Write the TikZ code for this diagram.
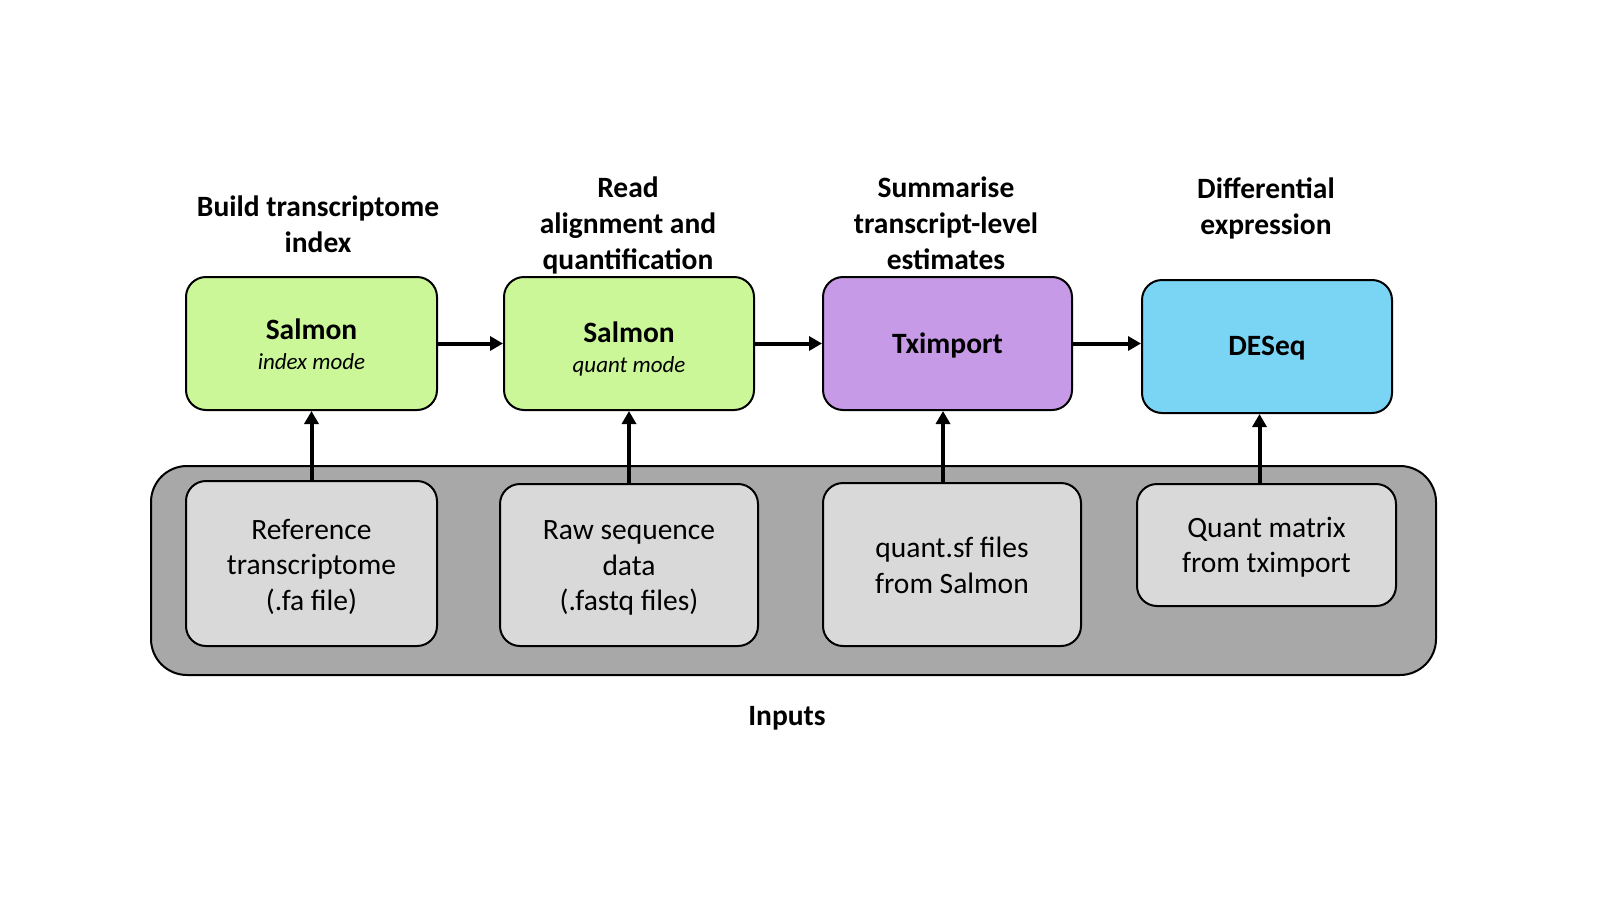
\documentclass[tikz,border=0pt]{standalone}
\usepackage{fontspec}
\setmainfont{Carlito}
\usetikzlibrary{arrows.meta}
\definecolor{cgreen}{RGB}{204,247,153}
\definecolor{cpurple}{RGB}{199,154,232}
\definecolor{cblue}{RGB}{122,213,245}
\definecolor{ccont}{RGB}{168,168,168}
\definecolor{cinner}{RGB}{217,217,217}
\tikzset{
  tool/.style={draw=black, line width=2pt, rounded corners=20pt, inner sep=0pt},
  tooltxt/.style={align=center, inner sep=0pt, font=\fontsize{29.5}{36}\selectfont\bfseries},
  inbox/.style={draw=black, line width=2pt, rounded corners=20pt, fill=cinner, inner sep=0pt},
  intxt/.style={align=center, inner sep=0pt, font=\fontsize{29.5}{35.5}\selectfont},
  lbl/.style={align=center, inner sep=0pt, font=\fontsize{29.5}{36}\selectfont\bfseries},
  arr/.style={line width=4pt, -{Triangle[length=13pt,width=14pt]}}
}
\newcommand{\modefont}{\fontsize{23}{28}\selectfont\mdseries\itshape}
\begin{document}
\begin{tikzpicture}[x=1pt,y=-1pt]
\useasboundingbox[fill=white] (0,0) rectangle (1603,902);
% container
\node[draw=black, line width=2pt, rounded corners=36pt, fill=ccont, minimum width=1285pt, minimum height=209pt, inner sep=0pt] (cont) at (793.5,570.5) {};
% top boxes
\node[tool, fill=cgreen, minimum width=251pt, minimum height=133pt] (b1) at (311.5,343.5) {};
\node[tooltxt] (b1t) at ([yshift=-1pt]b1.center) {Salmon\\[-6pt]{\modefont index mode}};
\node[tool, fill=cgreen, minimum width=250pt, minimum height=133pt] (b2) at (629,343.5) {};
\node[tooltxt] (b2t) at ([yshift=-5pt]b2.center) {Salmon\\[-6pt]{\modefont quant mode}};
\node[tool, fill=cpurple, minimum width=249pt, minimum height=133pt] (b3) at (947.5,343.5) {};
\node[tooltxt] (b3t) at ([yshift=-2pt]b3.center) {Tximport};
\node[tool, fill=cblue, minimum width=250pt, minimum height=133pt] (b4) at (1267,346.5) {};
\node[tooltxt] (b4t) at ([yshift=-2pt]b4.center) {DESeq};
% inner boxes
\node[inbox, minimum width=251pt, minimum height=165pt] (i1) at (311.5,563.5) {};
\node[intxt] (i1t) at ([yshift=-3pt]i1.center) {Reference\\transcriptome\\(.fa file)};
\node[inbox, minimum width=258pt, minimum height=162pt] (i2) at (629,565) {};
\node[intxt] (i2t) at ([yshift=-3pt]i2.center) {Raw sequence\\data\\(.fastq files)};
\node[inbox, minimum width=258pt, minimum height=163pt] (i3) at (952,564.5) {};
\node[intxt] (i3t) at ([yshift=-1pt]i3.center) {quant.sf files\\from Salmon};
\node[inbox, minimum width=259pt, minimum height=122pt] (i4) at (1266.5,545) {};
\node[intxt] (i4t) at ([yshift=-2pt]i4.center) {Quant matrix\\from tximport};
% labels
\node[lbl] (l1) at (318,224) {Build transcriptome\\index};
\node[lbl] (l2) at (628,225) {Read\\alignment and\\quantification};
\node[lbl] (l3) at (946,223) {Summarise\\transcript-level\\estimates};
\node[lbl] (l4) at (1266,208.5) {Differential\\expression};
\node[lbl] (l5) at (787,718) {Inputs};
% arrows
\draw[arr] (b1.east) -- (b2.west);
\draw[arr] (b2.east) -- (b3.west);
\draw[arr] (b3.east) -- (b4.west |- b3.east);
\draw[arr] (i1.north) -- (b1.south);
\draw[arr] (i2.north) -- (i2.north |- b2.south);
\draw[arr] ([xshift=-9pt]i3.north) -- ([xshift=-9pt]i3.north |- b3.south);
\draw[arr] ([xshift=-7pt]i4.north) -- ([xshift=-7pt]i4.north |- b4.south);
\end{tikzpicture}
\end{document}
